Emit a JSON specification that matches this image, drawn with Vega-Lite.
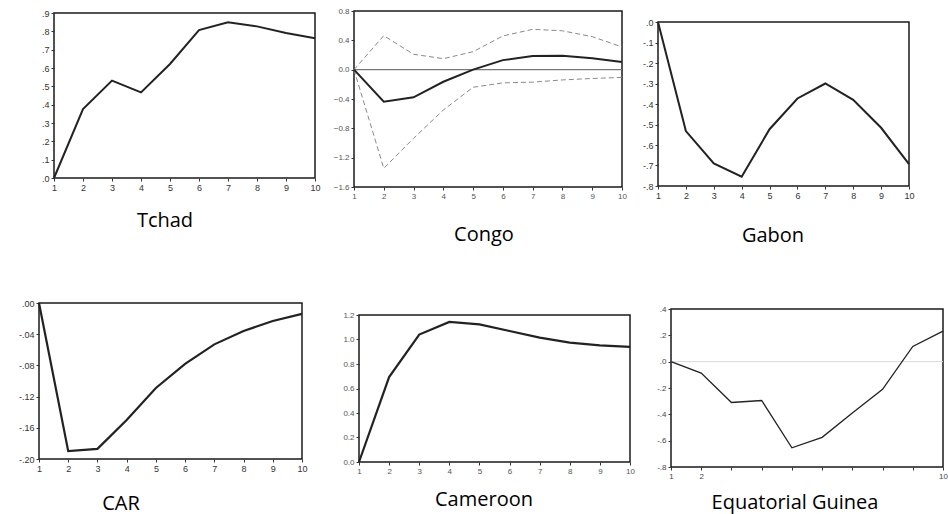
{
  "$schema": "https://vega.github.io/schema/vega-lite/v6.json",
  "background": "white",
  "padding": {"left": 3, "top": 2, "right": 0, "bottom": 0},
  "bounds": "full",
  "align": "none",
  "columns": 4,
  "spacing": {"row": 0, "column": 0},
  "config": {
    "view": {"stroke": "#1a1a1a", "strokeWidth": 1.5},
    "axis": {"grid": false, "domain": false, "tickSize": 3, "tickColor": "#333", "labelFont": "Liberation Sans", "labelFontSize": 9, "labelColor": "#333", "labelPadding": 2, "labelFlush": false, "labelOverlap": false, "titleFontSize": 1, "titleColor": "#ffffff"},
    "title": {"orient": "bottom", "anchor": "middle", "frame": "group", "font": "Open Sans", "fontSize": 20, "fontWeight": "normal", "color": "#000", "baseline": "top"}
  },
  "datasets": {
    "tchad": [
      {"t": 1, "v": 0.0}, {"t": 2, "v": 0.376}, {"t": 3, "v": 0.531}, {"t": 4, "v": 0.467}, {"t": 5, "v": 0.622},
      {"t": 6, "v": 0.807}, {"t": 7, "v": 0.849}, {"t": 8, "v": 0.827}, {"t": 9, "v": 0.791}, {"t": 10, "v": 0.762}
    ],
    "congo": [
      {"t": 1, "s": "irf", "v": 0.0}, {"t": 2, "s": "irf", "v": -0.436}, {"t": 3, "s": "irf", "v": -0.377}, {"t": 4, "s": "irf", "v": -0.165}, {"t": 5, "s": "irf", "v": 0.0},
      {"t": 6, "s": "irf", "v": 0.13}, {"t": 7, "s": "irf", "v": 0.186}, {"t": 8, "s": "irf", "v": 0.19}, {"t": 9, "s": "irf", "v": 0.155}, {"t": 10, "s": "irf", "v": 0.105},
      {"t": 1, "s": "upper", "v": 0.0}, {"t": 2, "s": "upper", "v": 0.464}, {"t": 3, "s": "upper", "v": 0.21}, {"t": 4, "s": "upper", "v": 0.15}, {"t": 5, "s": "upper", "v": 0.245},
      {"t": 6, "s": "upper", "v": 0.46}, {"t": 7, "s": "upper", "v": 0.55}, {"t": 8, "s": "upper", "v": 0.53}, {"t": 9, "s": "upper", "v": 0.45}, {"t": 10, "s": "upper", "v": 0.31},
      {"t": 1, "s": "lower", "v": 0.0}, {"t": 2, "s": "lower", "v": -1.345}, {"t": 3, "s": "lower", "v": -0.936}, {"t": 4, "s": "lower", "v": -0.55}, {"t": 5, "s": "lower", "v": -0.24},
      {"t": 6, "s": "lower", "v": -0.18}, {"t": 7, "s": "lower", "v": -0.17}, {"t": 8, "s": "lower", "v": -0.14}, {"t": 9, "s": "lower", "v": -0.12}, {"t": 10, "s": "lower", "v": -0.105}
    ],
    "gabon": [
      {"t": 1, "v": 0.0}, {"t": 2, "v": -0.532}, {"t": 3, "v": -0.69}, {"t": 4, "v": -0.755}, {"t": 5, "v": -0.523},
      {"t": 6, "v": -0.373}, {"t": 7, "v": -0.3}, {"t": 8, "v": -0.38}, {"t": 9, "v": -0.516}, {"t": 10, "v": -0.693}
    ],
    "car": [
      {"t": 1, "v": 0.0}, {"t": 2, "v": -0.19}, {"t": 3, "v": -0.187}, {"t": 4, "v": -0.15}, {"t": 5, "v": -0.109},
      {"t": 6, "v": -0.078}, {"t": 7, "v": -0.053}, {"t": 8, "v": -0.036}, {"t": 9, "v": -0.023}, {"t": 10, "v": -0.014}
    ],
    "cameroon": [
      {"t": 1, "v": 0.0}, {"t": 2, "v": 0.693}, {"t": 3, "v": 1.04}, {"t": 4, "v": 1.143}, {"t": 5, "v": 1.124},
      {"t": 6, "v": 1.069}, {"t": 7, "v": 1.015}, {"t": 8, "v": 0.974}, {"t": 9, "v": 0.952}, {"t": 10, "v": 0.94}
    ],
    "eqguinea": [
      {"t": 1, "v": 0.0}, {"t": 2, "v": -0.087}, {"t": 3, "v": -0.31}, {"t": 4, "v": -0.295}, {"t": 5, "v": -0.654},
      {"t": 6, "v": -0.575}, {"t": 7, "v": -0.39}, {"t": 8, "v": -0.21}, {"t": 9, "v": 0.116}, {"t": 10, "v": 0.232}
    ],
    "empty": []
  },
  "concat": [
    {"width": 1, "height": 1, "view": {"stroke": null}, "data": {"name": "empty"}, "mark": "point"},
    {"width": 1, "height": 1, "view": {"stroke": null}, "data": {"name": "empty"}, "mark": "point"},
    {"width": 1, "height": 1, "view": {"stroke": null}, "data": {"name": "empty"}, "mark": "point"},
    {"width": 1, "height": 1, "view": {"stroke": null}, "data": {"name": "empty"}, "mark": "point"},
    {"width": 13, "height": 277, "view": {"stroke": null}, "data": {"name": "empty"}, "mark": "point"},
    {
      "width": 261, "height": 165,
      "title": {"text": "Tchad", "dx": -19.5, "offset": 18.5},
      "data": {"name": "tchad"},
      "mark": {"type": "line", "color": "#222", "strokeWidth": 2},
      "encoding": {
        "x": {"field": "t", "type": "quantitative", "scale": {"domain": [1, 10]},
              "axis": {"values": [1, 2, 3, 4, 5, 6, 7, 8, 9, 10], "title": " ", "titleX": 273, "titleY": -174}},
        "y": {"field": "v", "type": "quantitative", "scale": {"domain": [0, 0.9], "nice": false, "zero": false},
              "axis": {"values": [0, 0.1, 0.2, 0.3, 0.4, 0.5, 0.6, 0.7, 0.8, 0.9], "title": " ", "titleX": -36, "titleY": 82, "minExtent": 36, "maxExtent": 36,
                       "labelExpr": "(datum.value < -1e-9 ? '-' : '') + substring(format(abs(datum.value), '.1f'), 1)"}}
      }
    },
    {
      "width": 268, "height": 176,
      "title": {"text": "Congo", "dx": -4, "offset": 24.5},
      "layer": [
        {
          "data": {"values": [{}]},
          "mark": {"type": "rule", "color": "#777", "strokeWidth": 1.2},
          "encoding": {"y": {"datum": 0, "type": "quantitative", "scale": {"domain": [-1.6, 0.8], "nice": false, "zero": false},
                  "axis": {"values": [-1.6, -1.2, -0.8, -0.4, 0, 0.4, 0.8], "format": ".1f", "title": " ", "titleX": -22, "titleY": 88, "labelFontSize": 8, "labelColor": "#555", "labelOverlap": false, "minExtent": 22, "maxExtent": 22}}}
        },
        {
          "data": {"name": "congo"},
          "transform": [{"filter": "datum.s != 'irf'"}],
          "mark": {"type": "line", "color": "#8a8a8a", "strokeWidth": 1, "strokeDash": [5, 3]},
          "encoding": {
            "x": {"field": "t", "type": "quantitative", "scale": {"domain": [1, 10]},
                  "axis": {"values": [1, 2, 3, 4, 5, 6, 7, 8, 9, 10], "title": " ", "titleX": 280, "titleY": -183, "labelFontSize": 8, "labelColor": "#555", "labelOverlap": false}},
            "y": {"field": "v", "type": "quantitative", "scale": {"domain": [-1.6, 0.8], "nice": false, "zero": false},
                  "axis": {"values": [-1.6, -1.2, -0.8, -0.4, 0, 0.4, 0.8], "format": ".1f", "title": " ", "titleX": -22, "titleY": 88, "labelFontSize": 8, "labelColor": "#555", "labelOverlap": false, "minExtent": 22, "maxExtent": 22}},
            "detail": {"field": "s"}
          }
        },
        {
          "data": {"name": "congo"},
          "transform": [{"filter": "datum.s == 'irf'"}],
          "mark": {"type": "line", "color": "#222", "strokeWidth": 2},
          "encoding": {
            "x": {"field": "t", "type": "quantitative", "scale": {"domain": [1, 10]},
                  "axis": {"values": [1, 2, 3, 4, 5, 6, 7, 8, 9, 10], "title": " ", "titleX": 280, "titleY": -183, "labelFontSize": 8, "labelColor": "#555", "labelOverlap": false}},
            "y": {"field": "v", "type": "quantitative", "scale": {"domain": [-1.6, 0.8], "nice": false, "zero": false},
                  "axis": {"values": [-1.6, -1.2, -0.8, -0.4, 0, 0.4, 0.8], "format": ".1f", "title": " ", "titleX": -22, "titleY": 88, "labelFontSize": 8, "labelColor": "#555", "labelOverlap": false, "minExtent": 22, "maxExtent": 22}}
          }
        }
      ]
    },
    {
      "width": 251, "height": 164,
      "title": {"text": "Gabon", "dx": -10.5, "offset": 25.5},
      "data": {"name": "gabon"},
      "mark": {"type": "line", "color": "#222", "strokeWidth": 2},
      "encoding": {
        "x": {"field": "t", "type": "quantitative", "scale": {"domain": [1, 10]},
              "axis": {"values": [1, 2, 3, 4, 5, 6, 7, 8, 9, 10], "title": " ", "titleX": 263, "titleY": -182}},
        "y": {"field": "v", "type": "quantitative", "scale": {"domain": [-0.8, 0], "nice": false, "zero": false},
              "axis": {"values": [-0.8, -0.7, -0.6, -0.5, -0.4, -0.3, -0.2, -0.1, 0], "title": " ", "titleX": -18, "titleY": 82, "minExtent": 18, "maxExtent": 18,
                       "labelExpr": "(datum.value < -1e-9 ? '-' : '') + substring(format(abs(datum.value), '.1f'), 1)"}}
      }
    },
    {"width": 13, "height": 1, "view": {"stroke": null}, "data": {"name": "empty"}, "mark": "point"},
    {
      "width": 263, "height": 156,
      "title": {"text": "CAR", "dx": -49.5, "offset": 21},
      "data": {"name": "car"},
      "mark": {"type": "line", "color": "#222", "strokeWidth": 2.2},
      "encoding": {
        "x": {"field": "t", "type": "quantitative", "scale": {"domain": [1, 10]},
              "axis": {"values": [1, 2, 3, 4, 5, 6, 7, 8, 9, 10], "title": " ", "titleX": 275, "titleY": -168}},
        "y": {"field": "v", "type": "quantitative", "scale": {"domain": [-0.2, 0], "nice": false, "zero": false},
              "axis": {"values": [-0.2, -0.16, -0.12, -0.08, -0.04, 0], "title": " ", "titleX": -21, "titleY": 78, "minExtent": 21, "maxExtent": 21,
                       "labelExpr": "(datum.value < -1e-9 ? '-' : '') + substring(format(abs(datum.value), '.2f'), 1)"}}
      }
    },
    {
      "width": 271, "height": 147,
      "title": {"text": "Cameroon", "dx": -10.5, "offset": 14.5},
      "data": {"name": "cameroon"},
      "mark": {"type": "line", "color": "#222", "strokeWidth": 2.2},
      "encoding": {
        "x": {"field": "t", "type": "quantitative", "scale": {"domain": [1, 10]},
              "axis": {"values": [1, 2, 3, 4, 5, 6, 7, 8, 9, 10], "labelFontSize": 8, "labelColor": "#555", "title": " ", "titleX": 283, "titleY": -173}},
        "y": {"field": "v", "type": "quantitative", "scale": {"domain": [0, 1.2], "nice": false, "zero": false},
              "axis": {"values": [0, 0.2, 0.4, 0.6, 0.8, 1.0, 1.2], "format": ".1f", "labelFontSize": 8, "labelColor": "#555", "title": " ", "titleX": -42, "titleY": 73, "minExtent": 42, "maxExtent": 42}}
      }
    },
    {
      "width": 272, "height": 158,
      "title": {"text": "Equatorial Guinea", "dx": -12, "offset": 12.5},
      "layer": [
        {
          "data": {"values": [{}]},
          "mark": {"type": "rule", "color": "#d8d8d8", "strokeWidth": 1},
          "encoding": {"y": {"datum": 0, "type": "quantitative", "scale": {"domain": [-0.8, 0.4], "nice": false, "zero": false},
                  "axis": {"values": [-0.8, -0.6, -0.4, -0.2, 0, 0.2, 0.4], "title": " ", "titleX": -26, "titleY": 79, "labelFontSize": 8, "labelColor": "#444", "labelOverlap": false, "minExtent": 26, "maxExtent": 26,
                           "labelExpr": "(datum.value < -1e-9 ? '-' : '') + substring(format(abs(datum.value), '.1f'), 1)"}}}
        },
        {
          "data": {"name": "eqguinea"},
          "mark": {"type": "line", "color": "#222", "strokeWidth": 1.3},
          "encoding": {
            "x": {"field": "t", "type": "quantitative", "scale": {"domain": [1, 10]},
                  "axis": {"values": [1, 2, 3, 4, 5, 6, 7, 8, 9, 10], "labelFontSize": 8, "labelColor": "#444", "labelOverlap": false, "title": " ", "titleX": 276, "titleY": -167,
                           "labelExpr": "(datum.value == 1 || datum.value == 2 || datum.value == 10) ? datum.label : ''"}},
            "y": {"field": "v", "type": "quantitative", "scale": {"domain": [-0.8, 0.4], "nice": false, "zero": false},
                  "axis": {"values": [-0.8, -0.6, -0.4, -0.2, 0, 0.2, 0.4], "title": " ", "titleX": -26, "titleY": 79, "labelFontSize": 8, "labelColor": "#444", "labelOverlap": false, "minExtent": 26, "maxExtent": 26,
                           "labelExpr": "(datum.value < -1e-9 ? '-' : '') + substring(format(abs(datum.value), '.1f'), 1)"}}
          }
        }
      ]
    }
  ]
}
